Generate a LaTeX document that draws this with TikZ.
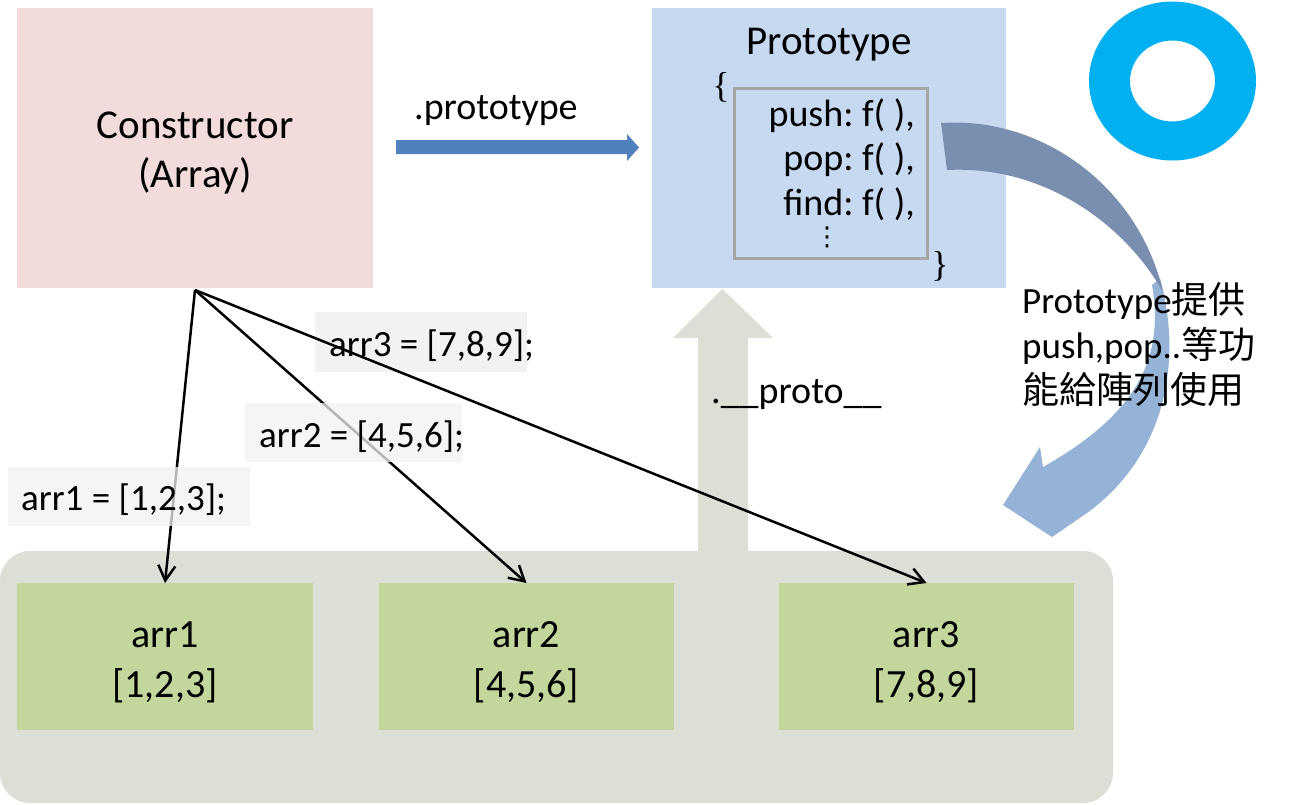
\documentclass[tikz,border=0pt]{standalone}
\usepackage{fontspec}
\setmainfont{Carlito}
\newfontfamily\cjk{Noto Sans CJK TC}
\newfontfamily\bracefont{Liberation Serif}
\newfontfamily\symfont{DejaVu Sans}
\usetikzlibrary{arrows.meta}
\definecolor{pinkbox}{HTML}{F2DCDB}
\definecolor{bluebox}{HTML}{C6D9F1}
\definecolor{bluearrow}{HTML}{4F81BD}
\definecolor{ring}{HTML}{00B0F0}
\definecolor{greenbox}{HTML}{C3D69B}
\definecolor{container}{RGB}{220,223,213}
\definecolor{lblgray}{HTML}{F2F2F2}
\definecolor{innergray}{HTML}{A6A6A6}
\definecolor{darkarrow}{RGB}{122,143,176}
\definecolor{lightarrow}{RGB}{149,179,215}
\frenchspacing
\begin{document}
\begin{tikzpicture}[x=1pt,y=-1pt,
  box/.style={inner sep=0pt, outer sep=0pt},
  big/.style={font=\fontsize{41}{49}\selectfont},
  txt/.style={inner sep=0pt, font=\fontsize{38}{46}\selectfont},
  boxtxt/.style={inner sep=0pt, font=\fontsize{40}{48}\selectfont},
  lbl/.style={inner sep=0pt, font=\fontsize{37}{44}\selectfont},
  lblbg/.style={box, fill=lblgray},
  conn/.style={line width=2.5pt, -{Straight Barb[length=15pt,width=17pt]}}
]
\useasboundingbox (0,0) rectangle (1299,804);

% container with up arrow
\fill[container, rounded corners=30pt] (0,551) rectangle (1113,803);
\fill[container] (698,552) -- (698,338) -- (673,338) -- (722.5,289) -- (773,338) -- (748,338) -- (748,552) -- cycle;
\node[txt, anchor=west] (protolbl) at (711,395) {.\_\_proto\_\_};

% instance boxes
\node[box, fill=greenbox, minimum width=296pt, minimum height=147pt] (arr1) at (165,656.5) {};
\node[box, fill=greenbox, minimum width=295pt, minimum height=147pt] (arr2) at (526.5,656.5) {};
\node[box, fill=greenbox, minimum width=295pt, minimum height=147pt] (arr3) at (926.5,656.5) {};
\node[boxtxt, align=center] (arr1t) at (165,662) {arr1\\[2pt][1,2,3]};
\node[boxtxt, align=center] (arr2t) at (526.5,662) {arr2\\[2pt][4,5,6]};
\node[boxtxt, align=center] (arr3t) at (926.5,662) {arr3\\[2pt][7,8,9]};

% constructor
\node[box, fill=pinkbox, minimum width=356pt, minimum height=280pt] (cons) at (195,148) {};
\node[big, align=center, inner sep=0pt] (const) at (195,153) {Constructor\\(Array)};
\coordinate (fan) at (195,290);

% prototype
\node[box, fill=bluebox, minimum width=354pt, minimum height=280pt] (proto) at (829,148) {};
\node[big, inner sep=0pt] (ptitle) at (829,45) {Prototype};
\node[box, draw=innergray, line width=3pt, minimum width=193pt, minimum height=170pt] (methods) at (831,173) {};
\node[txt, anchor=east] (m1) at (915,116) {push: f( ),};
\node[txt, anchor=east] (m2) at (915,160) {pop: f( ),};
\node[txt, anchor=east] (m3) at (915,204) {find: f( ),};
\node[inner sep=0pt, font=\symfont\fontsize{26}{26}\selectfont] (m4) at (827,237) {⋮};
\node[inner sep=0pt, font=\bracefont\fontsize{36}{36}\selectfont] (lb) at (721,87) {\{};
\node[inner sep=0pt, font=\bracefont\fontsize{36}{36}\selectfont] (rb) at (940,266) {\}};

% .prototype arrow
\node[txt, anchor=west] (plbl) at (414,111) {.prototype};
\fill[bluearrow] (396,140) -- (627,140) -- (627,134) -- (639,147.5) -- (627,161) -- (627,154) -- (396,154) -- cycle;

% ring
\fill[ring, even odd rule] (1172.5,81) ellipse [x radius=83.5, y radius=79.5] (1172.5,81) ellipse [x radius=42.5, y radius=40.5];

% curved arrow
\fill[lightarrow] (1160,278) .. controls (1185,370) and (1160,460) .. (1087,513) -- (1052,537) -- (1003,505) -- (1040,447) -- (1043,467) .. controls (1135,415) and (1165,360) .. (1152,285) -- cycle;
\fill[darkarrow] (941,123) .. controls (1045,116) and (1140,190) .. (1163,292) .. controls (1125,225) and (1045,165) .. (947,170) -- cycle;

% side note
\node[inner sep=0pt, anchor=west, align=left, font=\fontsize{37}{45}\selectfont] (note) at (1022,345) {Prototype{\cjk 提供}\\push,pop..{\cjk 等功}\\{\cjk 能給陣列使用}};

% labels and connectors
\node[lblbg, minimum width=212pt, minimum height=60pt] (l3bg) at (421,342) {};
\node[lbl, anchor=west] (l3) at (329,346) {arr3 = [7,8,9];};
\draw[conn] (fan) -- (arr1.north);
\draw[conn] (fan) -- (arr2.north);
\draw[conn] (fan) -- (arr3.north);
\node[lblbg, fill opacity=0.75, minimum width=217pt, minimum height=59pt] (l2bg) at (353.5,432.5) {};
\node[lbl, anchor=west] (l2) at (259,437) {arr2 = [4,5,6];};
\node[lblbg, fill opacity=0.75, minimum width=242pt, minimum height=59pt] (l1bg) at (129,496.5) {};
\node[lbl, anchor=west] (l1) at (21,500) {arr1 = [1,2,3];};
\end{tikzpicture}
\end{document}
